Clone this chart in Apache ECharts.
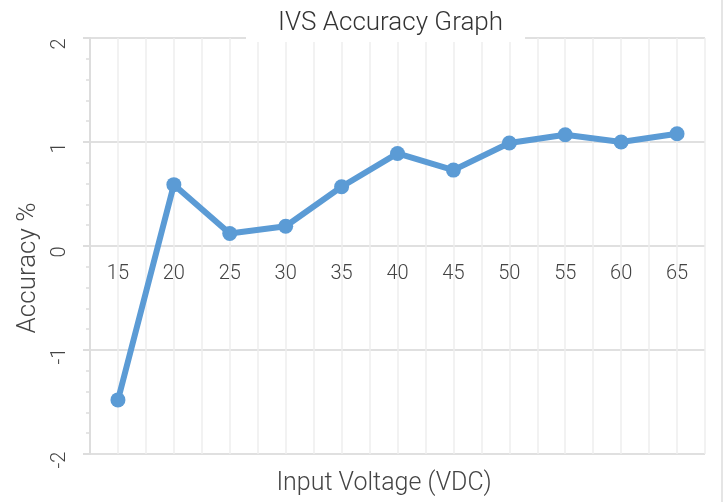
<!DOCTYPE html>
<html>
<head>
<meta charset="utf-8">
<script src="https://cdn.jsdelivr.net/npm/echarts@6/dist/echarts.min.js"></script>
<style>html,body{margin:0;padding:0;background:#fff;}#c{width:723px;height:502px;}</style>
</head>
<body>
<div id="c"></div>
<script>
var voltages = [15, 20, 25, 30, 35, 40, 45, 50, 55, 60, 65];
var accuracy = [-1.48, 0.59, 0.12, 0.19, 0.57, 0.89, 0.73, 0.99, 1.07, 1.00, 1.08];
var yTicks = [-2, -1, 0, 1, 2];
var xName = 'Input Voltage (VDC)';
var yName = 'Accuracy %';
var titleText = 'IVS Accuracy Graph';

var chart = echarts.init(document.getElementById('c'));
var FONT = 'Roboto';
chart.setOption({
  animation: false,
  backgroundColor: '#fff',
  title: {
    text: titleText,
    left: 246, top: 4,
    padding: [6, 22, 6, 32],
    backgroundColor: '#fff',
    textStyle: {fontFamily: FONT, fontWeight: 300, fontSize: 26, color: '#333'}
  },
  grid: {left: 90, right: 18, top: 38, bottom: 48, outerBoundsMode: 'none', containLabel: false},
  xAxis: {
    type: 'value', min: 12.5, max: 67.5, interval: 2.5,
    offset: -208,
    axisLine: {show: false, onZero: false},
    axisTick: {show: false},
    axisLabel: {
      fontFamily: FONT, fontWeight: 300, fontSize: 20, color: '#444', margin: 18,
      formatter: function (v) { return voltages.indexOf(v) >= 0 ? String(v) : ''; }
    },
    splitLine: {show: true, lineStyle: {color: '#eeeeee', width: 1.5}}
  },
  yAxis: {
    type: 'value', min: yTicks[0], max: yTicks[yTicks.length - 1], interval: 1,
    axisLine: {show: true, onZero: false, lineStyle: {color: '#dddddd', width: 2}},
    axisTick: {show: true, length: 7, lineStyle: {color: '#dddddd', width: 2}},
    minorTick: {show: true, splitNumber: 5, length: 4, lineStyle: {color: '#dddddd', width: 1.5}},
    axisLabel: {fontFamily: FONT, fontWeight: 300, fontSize: 20, color: '#444', rotate: 90, margin: 20, padding: [0, 12, 0, 0]},
    splitLine: {show: true, lineStyle: {color: '#e0e0e0', width: 2}}
  },
  graphic: [
    {type: 'line', shape: {x1: 722, y1: 0, x2: 722, y2: 502}, style: {stroke: '#dddddd', lineWidth: 1.5}},
    {type: 'text', x: 384, y: 484, style: {text: xName, fontFamily: FONT, fontWeight: 300, fontSize: 25, fill: '#444', align: 'center', verticalAlign: 'middle'}},
    {type: 'text', x: 28, y: 268, rotation: Math.PI / 2, style: {text: yName, fontFamily: FONT, fontWeight: 300, fontSize: 26, fill: '#444', align: 'center', verticalAlign: 'middle'}}
  ],
  series: [{
    type: 'line',
    data: voltages.map(function (v, i) { return [v, accuracy[i]]; }),
    symbol: 'circle', symbolSize: 15,
    lineStyle: {color: '#5b9bd5', width: 6},
    itemStyle: {color: '#5b9bd5'}
  }]
});
</script>
</body>
</html>
